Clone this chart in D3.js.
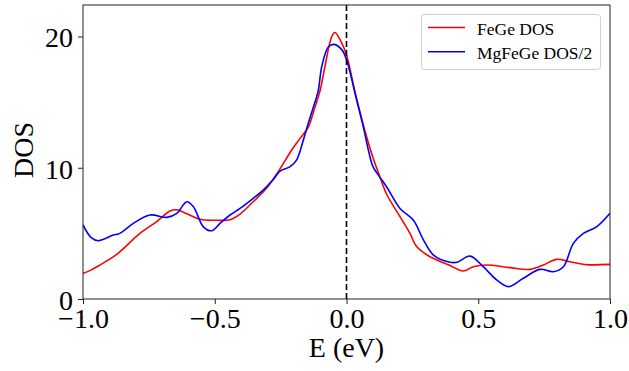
<!DOCTYPE html>
<html>
<head>
<meta charset="utf-8">
<script src="https://cdn.jsdelivr.net/npm/d3@7"></script>
<style>
  html, body { margin: 0; padding: 0; background: #fff; }
  svg { display: block; }
  text { font-family: "Liberation Serif", "Times New Roman", serif; }
</style>
</head>
<body>
<svg id="chart" width="629" height="371"></svg>
<script>
// ---- data ----
const feGeE = [-1.00, -0.97, -0.935, -0.872, -0.784, -0.72, -0.67, -0.644, -0.606, -0.556, -0.493, -0.442, -0.404, -0.354, -0.303, -0.259, -0.208, -0.176, -0.145, -0.12, -0.10, -0.082, -0.056, -0.044, -0.018, 0.0, 0.039, 0.077, 0.10, 0.127, 0.152, 0.203, 0.241, 0.266, 0.317, 0.393, 0.443, 0.481, 0.532, 0.62, 0.696, 0.747, 0.798, 0.848, 0.911, 1.0];
const feGeDOS = [1.96, 2.2, 2.6, 3.4, 5.0, 5.9, 6.7, 6.8, 6.5, 6.07, 6.0, 6.04, 6.47, 7.41, 8.45, 9.7, 11.35, 12.24, 13.1, 14.6, 15.9, 17.7, 20.0, 20.3, 19.5, 18.6, 15.2, 12.3, 10.8, 9.3, 8.0, 6.27, 5.0, 4.0, 3.22, 2.55, 2.13, 2.46, 2.59, 2.39, 2.26, 2.59, 3.02, 2.84, 2.62, 2.64];

const mgE = [-1.0, -0.97, -0.942, -0.885, -0.86, -0.809, -0.746, -0.682, -0.644, -0.606, -0.581, -0.543, -0.512, -0.48, -0.442, -0.404, -0.354, -0.316, -0.278, -0.252, -0.214, -0.189, -0.164, -0.145, -0.126, -0.107, -0.094, -0.069, -0.047, -0.018, 0.0, 0.032, 0.064, 0.083, 0.10, 0.121, 0.152, 0.203, 0.254, 0.292, 0.33, 0.393, 0.42, 0.469, 0.519, 0.57, 0.614, 0.671, 0.734, 0.785, 0.823, 0.861, 0.899, 0.949, 1.0];
const mgDOS = [5.64, 4.7, 4.44, 4.87, 5.0, 5.76, 6.4, 6.22, 6.53, 7.41, 7.03, 5.5, 5.2, 5.76, 6.4, 6.9, 7.67, 8.3, 9.1, 9.75, 10.08, 10.6, 12.1, 13.4, 14.6, 15.9, 17.7, 19.2, 19.4, 19.0, 18.25, 15.7, 13.1, 11.35, 10.1, 9.44, 8.55, 6.9, 6.0, 4.5, 3.35, 2.8, 2.8, 3.27, 2.46, 1.45, 0.94, 1.58, 2.26, 2.08, 2.46, 4.24, 5.0, 5.5, 6.53];

const xTicks = [-1.0, -0.5, 0.0, 0.5, 1.0];
const yTicks = [0, 10, 20];
const seriesNames = ["FeGe DOS", "MgFeGe DOS/2"];
const seriesColors = ["#ff0000", "#0000ff"];

// ---- layout ----
const W = 629, H = 371;
const m = { left: 83, right: 19, top: 5, bottom: 72 };
const svg = d3.select("#chart");

const x = d3.scaleLinear().domain([-1, 1]).range([m.left, W - m.right]);
const y = d3.scaleLinear().domain([0, 22.4]).range([H - m.bottom, m.top]);

const clip = svg.append("clipPath").attr("id", "clip")
  .append("rect").attr("x", m.left).attr("y", m.top)
  .attr("width", W - m.left - m.right).attr("height", H - m.top - m.bottom);

const line = d3.line().x(d => x(d[0])).y(d => y(d[1])).curve(d3.curveCatmullRom.alpha(0.5));

const series = [
  d3.zip(feGeE, feGeDOS),
  d3.zip(mgE, mgDOS)
];

const g = svg.append("g").attr("clip-path", "url(#clip)");
series.forEach((s, i) => {
  g.append("path").datum(s)
    .attr("fill", "none")
    .attr("stroke", seriesColors[i])
    .attr("stroke-width", 1.6)
    .attr("d", line);
});

// Fermi level dashed line
svg.append("line")
  .attr("x1", x(0)).attr("x2", x(0))
  .attr("y1", y.range()[0]).attr("y2", y.range()[1])
  .attr("stroke", "#000").attr("stroke-width", 1.6)
  .attr("stroke-dasharray", "6,3");

// frame
svg.append("rect")
  .attr("x", m.left).attr("y", m.top)
  .attr("width", W - m.left - m.right).attr("height", H - m.top - m.bottom)
  .attr("fill", "none").attr("stroke", "#222").attr("stroke-width", 1);

// axes
const fmt = d3.format(".1f");
const xAxis = svg.append("g")
  .attr("transform", `translate(0,${H - m.bottom})`)
  .call(d3.axisBottom(x).tickValues(xTicks).tickFormat(fmt).tickSize(5).tickPadding(4));
const yAxis = svg.append("g")
  .attr("transform", `translate(${m.left},0)`)
  .call(d3.axisLeft(y).tickValues(yTicks).tickFormat(d3.format("d")).tickSize(5).tickPadding(5));

[xAxis, yAxis].forEach(a => {
  a.select(".domain").remove();
  a.selectAll(".tick line").attr("stroke", "#222");
  a.selectAll(".tick text").attr("font-size", 28).attr("fill", "#000")
    .style("font-family", '"Liberation Serif", serif');
});
yAxis.selectAll(".tick text").attr("dy", "0.37em");

// axis titles
svg.append("text")
  .attr("x", x(0)).attr("y", 357)
  .attr("text-anchor", "middle").attr("font-size", 28).attr("fill", "#000")
  .text("E (eV)");
svg.append("text")
  .attr("transform", `translate(33,${(m.top + H - m.bottom) / 2 - 2}) rotate(-90)`)
  .attr("text-anchor", "middle").attr("font-size", 28).attr("fill", "#000")
  .text("DOS");

// legend
const lg = svg.append("g");
lg.append("rect")
  .attr("x", 421.5).attr("y", 14.5).attr("width", 179).attr("height", 55)
  .attr("rx", 3).attr("fill", "#fff").attr("fill-opacity", 0.8)
  .attr("stroke", "#d0d0d0").attr("stroke-width", 1);
seriesNames.forEach((name, i) => {
  const yy = 27.5 + i * 24.3;
  lg.append("line").attr("x1", 428).attr("x2", 465).attr("y1", yy).attr("y2", yy)
    .attr("stroke", seriesColors[i]).attr("stroke-width", 1.6);
  lg.append("text").attr("x", 477).attr("y", yy + 7.5)
    .attr("font-size", 17.5).attr("fill", "#000").text(name);
});
</script>
</body>
</html>
